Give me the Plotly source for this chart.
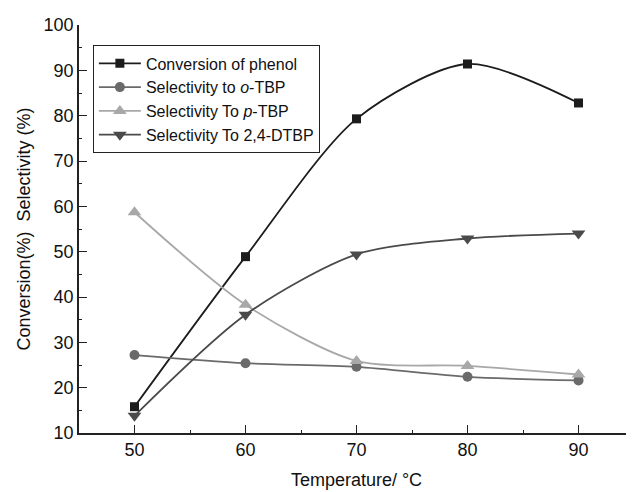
import plotly.graph_objects as go

temperature = [50, 60, 70, 80, 90]
conversion_phenol = [15.8, 48.9, 79.3, 91.4, 82.8]
sel_o_tbp = [27.2, 25.4, 24.6, 22.4, 21.6]
sel_p_tbp = [58.7, 38.3, 25.9, 24.8, 22.9]
sel_24_dtbp = [13.8, 36.1, 49.4, 52.9, 54.0]

names = ["Conversion of phenol", "Selectivity to <i>o</i>-TBP",
         "Selectivity To <i>p</i>-TBP", "Selectivity To 2,4-DTBP"]
series = [conversion_phenol, sel_o_tbp, sel_p_tbp, sel_24_dtbp]
colors = ["#1c1c1c", "#6a6a6a", "#a8a8a8", "#4a4a4a"]
symbols = ["square", "circle", "triangle-up", "triangle-down"]
sizes = [9, 10, 12, 12]

fig = go.Figure()
for n, s, c, sym, sz in zip(names, series, colors, symbols, sizes):
    fig.add_trace(go.Scatter(
        x=temperature, y=s, name=n, mode="lines+markers",
        line=dict(color=c, width=1.8, shape="spline", smoothing=0.8),
        marker=dict(symbol=sym, size=sz, color=c, line=dict(width=0)),
    ))

font = "Liberation Sans, Arial, sans-serif"
# page body has an 8px default margin, so the figure is offset by (8, 8)
fig.update_layout(
    width=626, height=484,
    margin=dict(l=71, r=0, t=17, b=59, autoexpand=False),
    plot_bgcolor="white", paper_bgcolor="white",
    font=dict(family=font, size=18, color="#111"),
    showlegend=True,
    legend=dict(x=0.025, y=0.95, xanchor="left", yanchor="top",
                bgcolor="white", bordercolor="#222", borderwidth=1,
                font=dict(size=16, family=font, color="#111"),
                tracegroupgap=0, itemwidth=42),
    xaxis=dict(range=[45, 95], tickvals=[50, 60, 70, 80, 90],
               automargin=False,
               showline=True, linecolor="#222", linewidth=1.5,
               ticks="inside", ticklen=8, tickwidth=1.3, tickcolor="#222",
               minor=dict(ticks="inside", ticklen=3, tickcolor="#222", dtick=5, tick0=45),
               showgrid=False, zeroline=False,
               title=dict(text="Temperature/ \u00b0C", font=dict(size=18), standoff=14)),
    yaxis=dict(range=[10, 100], dtick=10,
               automargin=False,
               showline=True, linecolor="#222", linewidth=1.5,
               ticks="inside", ticklen=8, tickwidth=1.3, tickcolor="#222",
               minor=dict(ticks="inside", ticklen=3, tickcolor="#222", dtick=5),
               showgrid=False, zeroline=False,
               title=dict(text="Conversion(%)  Selectivity (%)", font=dict(size=18), standoff=8)),
)

fig.write_html("out.html")
